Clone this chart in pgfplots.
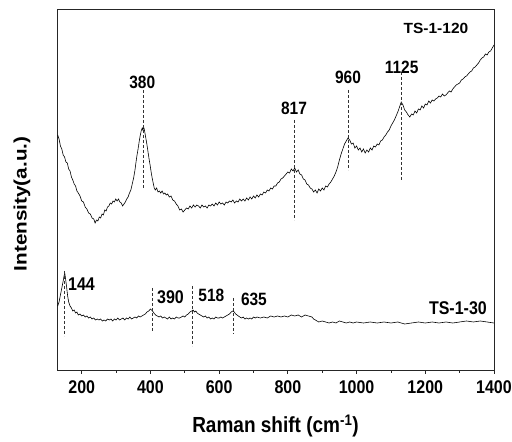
\documentclass[border=0pt]{standalone}
\usepackage{pgfplots}
\pgfplotsset{compat=1.18}
\usepackage{fontspec}
\setmainfont{Liberation Sans}
\usepackage{graphicx}
\newcommand\vs[1]{\scalebox{1}[1.15]{#1}}
\newcommand\fs[1]{\fontsize{#1}{#1}\selectfont\bfseries}
\begin{document}
\begin{tikzpicture}
\useasboundingbox (0,0) rectangle (512pt,442pt);
\begin{axis}[
  at={(57pt,72pt)}, anchor=south west,
  scale only axis, width=437pt, height=361pt,
  xmin=128, xmax=1400, ymin=72, ymax=433,
  axis line style={black!85, line width=0.9pt},
  xtick={200,400,...,1400}, minor x tick num=1,
  xtick pos=left, ytick=\empty,
  tick align=outside, major tick length=4pt, minor tick length=3pt,
  tick style={black!85, line width=0.8pt},
  /pgf/number format/assume math mode=true,
  /pgf/number format/1000 sep={},
  xticklabel={\vs{\pgfmathprintnumber{\tick}}},
  xticklabel style={font=\fs{16}, yshift=-3pt},
  xlabel={\vs{Raman shift (cm\textsuperscript{-1})}},
  xlabel style={font=\fs{19}, at={(axis description cs:0.5,0)}, anchor=base, yshift=-63pt},
  ylabel={\scalebox{1.15}[1]{Intensity(a.u.)}},
  ylabel style={font=\fs{18}, at={(axis description cs:-0.080,0.46)}, anchor=center},
  clip=false,
]
% TS-1-120
\addplot[black, line width=0.6pt] coordinates {
(130,307)(134,303)(138,296)(142,293)(146,287)(150,285)(154,280)(158,279)(162,273)(166,271)
(170,265)(174,262)(178,258)(182,256)(186,251)(190,249)(195,246)(200,241)(205,240)(210,235)
(215,233)(220,229)(225,228)(230,224)(235,223)(239,219)(243,222)(247,221)(251,225)(255,224)
(259,228)(263,227)(267,232)(271,231)(275,235)(279,236)(283,239)(287,238)(291,241)(295,240)
(299,243)(303,241)(307,243)(311,240)(315,239)(319,236)(323,238)(327,240)(331,243)(335,245)
(339,249)(343,252)(347,258)(351,264)(355,272)(358,280)(361,287)(364,293)(367,300)(370,306)
(373,311)(376,314)(378,312)(380,315)(382,313)(384,309)(387,303)(390,297)(393,290)(396,283)
(399,277)(402,270)(405,264)(408,259)(411,254)(414,252)(418,254)(422,250)(426,251)(430,249)
(434,251)(438,248)(442,249)(446,247)(450,248)(455,245)(460,246)(465,242)(470,241)(475,238)
(480,236)(485,232)(490,233)(495,230)(500,232)(505,234)(510,233)(515,236)(520,234)(525,237)
(530,235)(535,237)(540,236)(545,234)(550,237)(555,235)(560,236)(565,234)(570,237)(575,236)
(580,238)(585,236)(590,239)(595,237)(600,240)(605,238)(610,239)(615,237)(620,240)(625,239)
(630,241)(635,240)(640,242)(645,239)(650,241)(655,240)(660,243)(665,241)(670,243)(675,241)
(680,244)(685,242)(690,245)(695,243)(700,246)(705,244)(710,247)(715,245)(720,248)(725,247)
(730,250)(735,249)(740,252)(745,251)(750,254)(755,253)(760,256)(765,256)(770,259)(775,260)
(780,263)(785,264)(790,266)(795,268)(800,270)(805,269)(810,273)(815,271)(820,274)(825,270)
(830,272)(835,268)(840,267)(845,263)(850,262)(855,258)(860,257)(865,254)(870,253)(875,250)
(880,252)(885,249)(890,253)(895,251)(900,254)(905,252)(910,256)(915,255)(920,258)(925,260)
(930,263)(935,266)(940,270)(945,275)(950,282)(955,288)(960,293)(965,298)(970,301)(975,304)
(980,302)(985,298)(990,299)(995,294)(1000,296)(1005,292)(1010,294)(1015,290)(1020,293)(1025,289)
(1030,292)(1035,290)(1040,294)(1045,292)(1050,296)(1055,295)(1060,298)(1065,297)(1070,301)(1075,302)
(1080,305)(1085,307)(1090,310)(1095,312)(1100,316)(1105,319)(1110,322)(1115,326)(1120,330)(1125,335)
(1130,340)(1135,337)(1140,332)(1145,330)(1150,327)(1155,325)(1160,328)(1165,327)(1170,331)(1175,329)
(1180,333)(1185,332)(1190,336)(1195,334)(1200,338)(1205,337)(1210,341)(1215,339)(1220,342)(1225,341)
(1230,343)(1235,344)(1240,346)(1245,345)(1250,348)(1255,346)(1260,347)(1265,349)(1270,351)(1275,350)
(1280,353)(1285,355)(1290,357)(1295,358)(1300,359)(1305,362)(1310,363)(1315,365)(1320,366)(1325,368)
(1330,370)(1335,371)(1340,374)(1345,375)(1350,377)(1355,379)(1360,382)(1365,384)(1370,385)(1375,388)
(1380,387)(1385,390)(1390,391)(1395,394)(1400,397)
};
% TS-1-30
\addplot[black, line width=0.6pt] coordinates {
(130,136)(134,140)(138,147)(142,154)(146,161)(149,167)(151,168)(153,163)(156,155)(159,146)
(162,140)(166,136)(170,134)(174,131)(178,132)(182,129)(186,130)(190,127)(195,128)(200,126)
(205,127)(210,125)(215,126)(220,124)(225,125)(230,123)(235,124)(240,122)(245,123)(250,122)
(255,123)(260,121)(265,122)(270,121)(275,123)(280,122)(285,123)(290,121)(295,123)(300,122)
(305,124)(310,122)(315,123)(320,124)(325,122)(330,124)(335,123)(340,125)(345,123)(350,124)
(355,125)(360,124)(365,126)(370,125)(375,126)(380,127)(385,128)(390,130)(395,131)(400,133)
(403,132)(406,131)(410,129)(415,127)(420,126)(425,125)(430,126)(435,124)(440,125)(445,124)
(450,123)(455,125)(460,123)(465,124)(470,123)(475,125)(480,124)(485,124)(490,125)(495,126)
(500,125)(505,127)(510,128)(515,130)(520,131)(524,132)(528,130)(532,131)(536,129)(540,128)
(545,127)(550,126)(555,125)(560,126)(565,124)(570,125)(575,123)(580,124)(585,123)(590,125)
(595,124)(600,124)(605,125)(610,124)(615,125)(620,126)(625,127)(630,128)(635,130)(640,131)
(644,130)(648,128)(652,127)(656,126)(660,125)(665,124)(670,125)(675,123)(680,124)(685,123)
(690,124)(695,123)(700,125)(705,124)(710,125)(720,124)(730,125)(740,124)(750,126)(760,125)
(770,126)(780,125)(790,126)(800,125)(810,127)(820,126)(830,127)(840,125)(850,127)(860,126)
(870,125)(875,123)(880,122)(885,121)(890,120)(900,121)(910,120)(920,119)(930,120)(940,119)
(950,121)(960,120)(970,119)(980,120)(990,119)(1000,120)(1020,119)(1040,120)(1060,119)(1080,120)
(1100,119)(1120,120)(1140,118)(1160,119)(1180,120)(1200,119)(1220,120)(1240,119)(1260,120)(1280,119)
(1300,120)(1320,121)(1340,120)(1360,121)(1380,120)(1400,119)
};
% dashed markers
\addplot[black!80, densely dashed, line width=0.6pt] coordinates {(378,352)(378,254)};
\addplot[black!80, densely dashed, line width=0.6pt] coordinates {(818,322)(818,222)};
\addplot[black!80, densely dashed, line width=0.6pt] coordinates {(975,352)(975,272)};
\addplot[black!80, densely dashed, line width=0.6pt] coordinates {(1131,370)(1131,262)};
\addplot[black!80, densely dashed, line width=0.6pt] coordinates {(148.5,171)(148.5,106)};
\addplot[black!80, densely dashed, line width=0.6pt] coordinates {(404,154)(404,111)};
\addplot[black!80, densely dashed, line width=0.6pt] coordinates {(523,156)(523,96)};
\addplot[black!80, densely dashed, line width=0.6pt] coordinates {(640,144)(640,108)};
% labels
\node[font=\fs{15.5}] at (axis cs:376,360) {\vs{380}};
\node[font=\fs{15.5}] at (axis cs:818,334) {\vs{817}};
\node[font=\fs{15.5}] at (axis cs:975,365) {\vs{960}};
\node[font=\fs{15.5}] at (axis cs:1131,375) {\vs{1125}};
\node[font=\fs{15.5}] at (axis cs:1231,414) {\scalebox{1}[0.95]{TS-1-120}};
\node[font=\fs{16}, anchor=west, inner sep=0pt] at (axis cs:160,158) {\vs{144}};
\node[font=\fs{16}, anchor=west, inner sep=0pt] at (axis cs:419,145) {\vs{390}};
\node[font=\fs{15.5}, anchor=west, inner sep=0pt] at (axis cs:539,147) {\vs{518}};
\node[font=\fs{15.5}, anchor=west, inner sep=0pt] at (axis cs:663,143) {\vs{635}};
\node[font=\fs{16}] at (axis cs:1295,134) {\vs{TS-1-30}};
\end{axis}
\end{tikzpicture}
\end{document}
